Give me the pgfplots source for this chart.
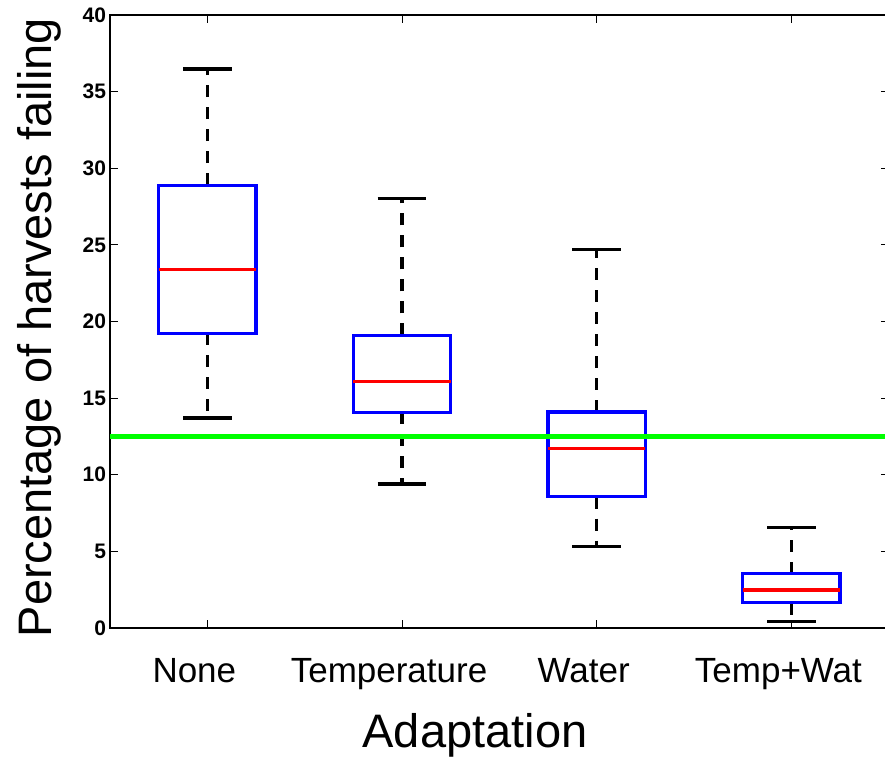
\documentclass[border=0pt]{standalone}
\usepackage{fontspec}
\setmainfont{Liberation Sans}
\usepackage{pgfplots}
\pgfplotsset{compat=1.18}
\usepgfplotslibrary{statistics}
\definecolor{mgreen}{RGB}{0,255,0}
\definecolor{mblue}{RGB}{0,0,255}
\definecolor{mred}{RGB}{255,0,0}
\begin{document}
\begin{tikzpicture}
\begin{axis}[
  scale only axis,
  width=778.7pt, height=613pt,
  xmin=0.5, xmax=4.5, ymin=0, ymax=40,
  enlargelimits=false,
  line width=1.2pt,
  xtick={1,2,3,4},
  xticklabels={None,Temperature,Water,Temp+Wat},
  ytick={0,5,...,40},
  /pgf/number format/assume math mode=true,
  tick align=inside,
  major tick length=8pt,
  major tick style={black, line width=1pt},
  yticklabel style={font=\fontsize{21}{21}\selectfont\bfseries},
  xticklabel style={font=\fontsize{35}{35}\selectfont, anchor=base, yshift=-54pt, xshift=-13pt},
  xlabel={Adaptation},
  ylabel={Percentage of harvests failing},
  xlabel style={font=\fontsize{47}{47}\selectfont, at={(axis description cs:0.4687,-0.1950)}, anchor=base},
  ylabel style={font=\fontsize{47}{47}\selectfont, at={(axis description cs:-0.0745,0.490)}, anchor=base, rotate=0},
  boxplot/draw direction=y,
  boxplot/box extend=0.5,
  boxplot/whisker extend=0.25,
  boxplot/every box/.style={draw=mblue, line width=3.2pt},
  boxplot/every median/.style={draw=mred, line width=3.2pt},
  boxplot/draw/whisker/.code 2 args={
    \draw[black, line width=3.2pt, dash pattern=on 12pt off 10pt] (boxplot cs:#1) -- (boxplot cs:#2);
    \draw[black, line width=3.2pt] (boxplot whisker cs:#2,0) -- (boxplot whisker cs:#2,1);
  },
]
\addplot[boxplot prepared={draw position=1, lower whisker=13.7, lower quartile=19.24, median=23.4, upper quartile=28.9, upper whisker=36.47}] coordinates {};
\addplot[boxplot prepared={draw position=2, lower whisker=9.39, lower quartile=14.07, median=16.1, upper quartile=19.1, upper whisker=28.0}] coordinates {};
\addplot[boxplot prepared={draw position=3, lower whisker=5.3, lower quartile=8.57, median=11.7, upper quartile=14.1, upper whisker=24.7}] coordinates {};
\addplot[boxplot prepared={draw position=4, lower whisker=0.41, lower quartile=1.65, median=2.48, upper quartile=3.55, upper whisker=6.55}] coordinates {};
\addplot[mgreen, line width=5.5pt] coordinates {(0.5,12.5) (4.5,12.5)};
\end{axis}
\pgfresetboundingbox
\useasboundingbox (-110pt,-129pt) rectangle (775pt,628pt);
\end{tikzpicture}
\end{document}
